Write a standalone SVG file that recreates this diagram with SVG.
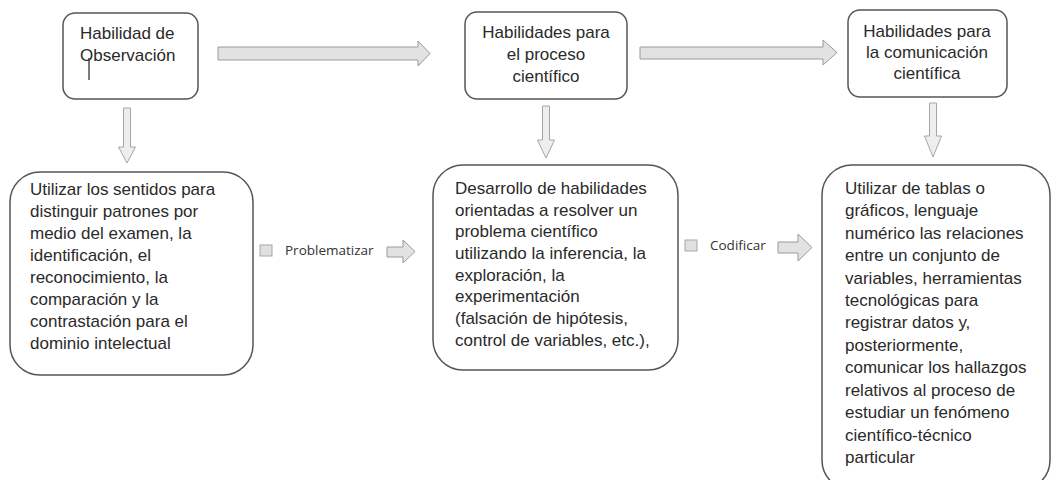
<svg xmlns="http://www.w3.org/2000/svg" width="1055" height="480" viewBox="0 0 1055 480">
<style>
.box{fill:#fff;stroke:#555;stroke-width:1.5}
.t{font-family:"Liberation Sans",Arial,sans-serif;font-size:17px;fill:#2a2a2a}
.c{text-anchor:middle}
.lbl{font-family:"Open Sans","Liberation Sans",sans-serif;font-size:13.5px;fill:#333}
.arr{fill:#e2e2e2;stroke:#9a9a9a;stroke-width:1}
.varr{fill:#eeeeee;stroke:#a5a5a5;stroke-width:1}
.sq{fill:#e0e0e0;stroke:#a8a8a8;stroke-width:1}
</style>
<rect width="1055" height="480" fill="#fff"/>
<g id="connectors">
<polygon class="arr" points="218,47 418,47 418,41 430,53.5 418,66 418,60 218,60"/>
<polygon class="arr" points="640,47 823,47 823,40 837,52.5 823,65 823,59 640,59"/>
<polygon class="varr" points="123.5,108 130.5,108 130.5,147 135.5,147 127,163 118.5,147 123.5,147"/>
<polygon class="varr" points="542.5,106 549.5,106 549.5,140 554.5,140 546,158 537.5,140 542.5,140"/>
<polygon class="varr" points="929.5,103 936.5,103 936.5,136 941.5,136 933,157 924.5,136 929.5,136"/>
<g id="edge-problematizar">
<rect class="sq" x="260" y="245" width="12" height="11"/>
<text class="lbl" x="285" y="255">Problematizar</text>
<polygon class="arr" points="387,247 403,247 403,240 415,251.5 403,263 403,257 387,257"/>
</g>
<g id="edge-codificar">
<rect class="sq" x="685" y="240" width="12" height="11"/>
<text class="lbl" x="710" y="250">Codificar</text>
<polygon class="arr" points="778,242 798,242 798,234 812,247.5 798,261 798,253 778,253"/>
</g>
</g>
<g id="n-observacion">
<rect class="box" x="63" y="13" width="135" height="86" rx="12"/>
<text class="t" x="80" y="39">Habilidad de</text>
<text class="t" x="80" y="61">Observación</text>
<line x1="89" y1="58" x2="89" y2="80" stroke="#222" stroke-width="1.2"/>
</g>
<g id="n-proceso">
<rect class="box" x="465" y="12" width="162" height="87" rx="12"/>
<text class="t c" x="546" y="38">Habilidades para</text>
<text class="t c" x="546" y="60">el proceso</text>
<text class="t c" x="546" y="82">científico</text>
</g>
<g id="n-comunicacion">
<rect class="box" x="848" y="10" width="159" height="87" rx="12"/>
<text class="t c" x="927" y="37">Habilidades para</text>
<text class="t c" x="927" y="58">la comunicación</text>
<text class="t c" x="927" y="79">científica</text>
</g>
<g id="n-sentidos">
<rect class="box" x="10" y="172" width="243" height="203" rx="30"/>
<text class="t" x="30" y="195">Utilizar los sentidos para</text>
<text class="t" x="30" y="217">distinguir patrones por</text>
<text class="t" x="30" y="239">medio del examen, la</text>
<text class="t" x="30" y="261">identificación, el</text>
<text class="t" x="30" y="283">reconocimiento, la</text>
<text class="t" x="30" y="305">comparación y la</text>
<text class="t" x="30" y="327">contrastación para el</text>
<text class="t" x="30" y="349">dominio intelectual</text>
</g>
<g id="n-desarrollo">
<rect class="box" x="433" y="165" width="245" height="205" rx="30"/>
<text class="t" x="455" y="194">Desarrollo de habilidades</text>
<text class="t" x="455" y="216">orientadas a resolver un</text>
<text class="t" x="455" y="237">problema científico</text>
<text class="t" x="455" y="259">utilizando la inferencia, la</text>
<text class="t" x="455" y="281">exploración, la</text>
<text class="t" x="455" y="302">experimentación</text>
<text class="t" x="455" y="324">(falsación de hipótesis,</text>
<text class="t" x="455" y="346">control de variables, etc.),</text>
</g>
<g id="n-tablas">
<rect class="box" x="822" y="165" width="228" height="325" rx="30"/>
<text class="t" x="845" y="194">Utilizar de tablas o</text>
<text class="t" x="845" y="216">gráficos, lenguaje</text>
<text class="t" x="845" y="239">numérico las relaciones</text>
<text class="t" x="845" y="261">entre un conjunto de</text>
<text class="t" x="845" y="284">variables, herramientas</text>
<text class="t" x="845" y="306">tecnológicas para</text>
<text class="t" x="845" y="328">registrar datos y,</text>
<text class="t" x="845" y="351">posteriormente,</text>
<text class="t" x="845" y="373">comunicar los hallazgos</text>
<text class="t" x="845" y="396">relativos al proceso de</text>
<text class="t" x="845" y="418">estudiar un fenómeno</text>
<text class="t" x="845" y="441">científico-técnico</text>
<text class="t" x="845" y="463">particular</text>
</g>
</svg>
